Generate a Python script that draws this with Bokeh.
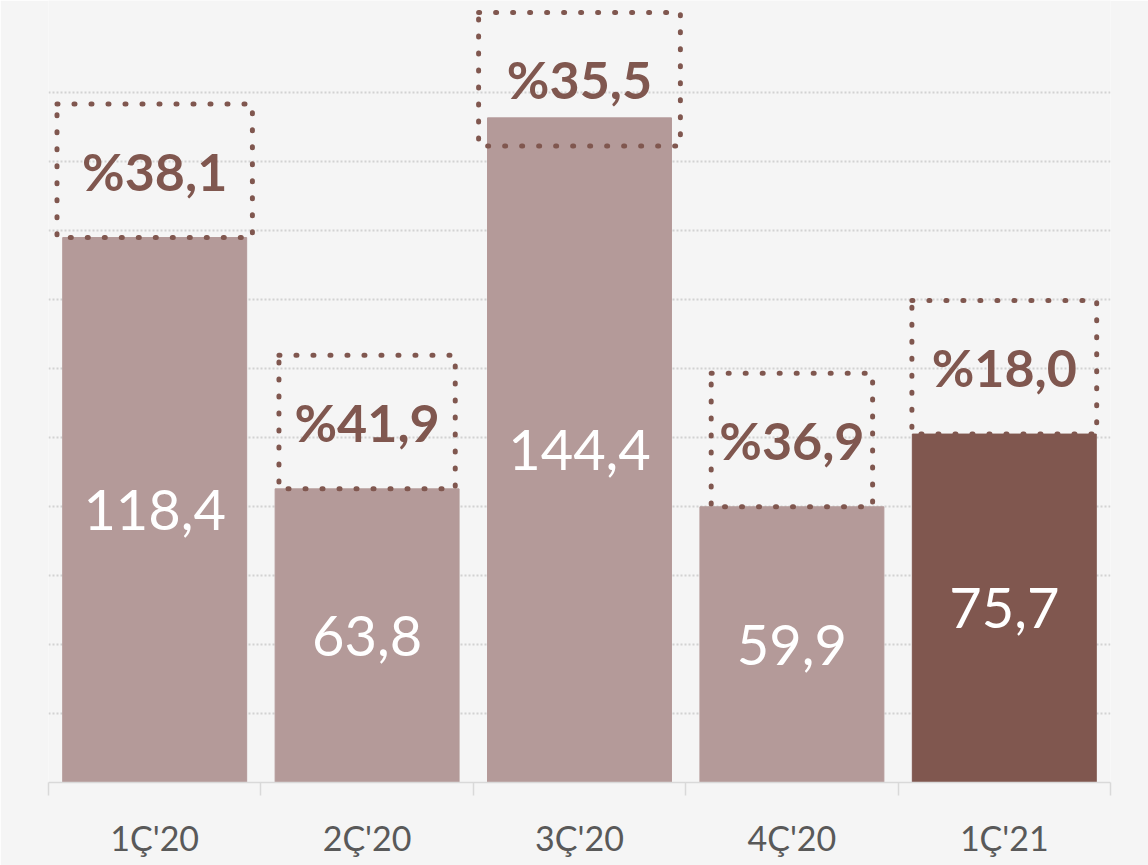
from bokeh.plotting import figure
from bokeh.models import ColumnDataSource, FixedTicker, Range1d
from bokeh.core.properties import value
from bokeh.embed import file_html
from bokeh.resources import INLINE

categories = ["1Ç'20", "2Ç'20", "3Ç'20", "4Ç'20", "1Ç'21"]
values = [118.4, 63.8, 144.4, 59.9, 75.7]
value_labels = ["118,4", "63,8", "144,4", "59,9", "75,7"]
pct_labels = ["%38,1", "%41,9", "%35,5", "%36,9", "%18,0"]

LIGHT = "#b49a99"
DARK = "#80574f"
BG = "#f5f5f5"

Y_MAX = 169.9
BOX_H = 29.0
BOX_TOP_LIMIT = 167.3
# label-box widths (in category units), styling only
BOX_W = [0.92, 0.83, 0.95, 0.76, 0.87]

xs = list(range(len(categories)))
colors = [LIGHT] * (len(categories) - 1) + [DARK]
box_bottom = [min(v, BOX_TOP_LIMIT - BOX_H) for v in values]
box_center = [b + BOX_H / 2 for b in box_bottom]

src = ColumnDataSource(dict(
    x=xs, top=values, color=colors, vlab=value_labels, vmid=[v / 2 for v in values],
    plab=pct_labels, bc=box_center, bw=BOX_W,
))

p = figure(width=1148, height=865, output_backend="svg", toolbar_location=None,
           x_range=Range1d(-0.5, 4.5), y_range=Range1d(0, Y_MAX),
           min_border_left=48, min_border_right=38, min_border_top=0, min_border_bottom=83)
p.background_fill_color = BG
p.border_fill_color = BG
p.outline_line_color = None

p.vbar(x="x", top="top", bottom=0, width=0.866, color="color", source=src)

# dotted label boxes
p.rect(x="x", y="bc", width="bw", height=BOX_H, fill_color=None,
       line_color=DARK, line_width=5, line_dash="1 16", line_cap="round", source=src)

p.text(x="x", y="vmid", text="vlab", source=src, text_color="white",
       text_font=value("Lato"), text_font_size="56px", text_align="center", text_baseline="middle")
p.text(x="x", y="bc", text="plab", source=src, text_color=DARK,
       text_font=value("Lato"), text_font_style="bold", text_font_size="52px",
       text_align="center", text_baseline="middle")

# axes
p.yaxis.visible = False
p.ygrid.ticker = FixedTicker(ticks=[15 * i for i in range(1, 11)])
p.ygrid.grid_line_color = "#d2d2d2"
p.ygrid.grid_line_dash = "2 2"
p.ygrid.grid_line_width = 2
p.xgrid.visible = False

xa = p.xaxis[0]
xa.ticker = FixedTicker(ticks=xs, minor_ticks=[i - 0.5 for i in range(len(categories) + 1)])
xa.major_label_overrides = {i: c for i, c in enumerate(categories)}
xa.major_tick_line_color = None
xa.major_tick_out = 0
xa.major_tick_in = 0
xa.minor_tick_line_color = "#d9d9d9"
xa.minor_tick_line_width = 1.5
xa.minor_tick_out = 13
xa.minor_tick_in = 0
xa.axis_line_color = "#d9d9d9"
xa.axis_line_width = 1.5
xa.major_label_text_font = "Lato"
xa.major_label_text_font_size = "34px"
xa.major_label_text_color = "#595959"
xa.major_label_standoff = 21

open("out.html", "w").write(file_html(p, INLINE))
